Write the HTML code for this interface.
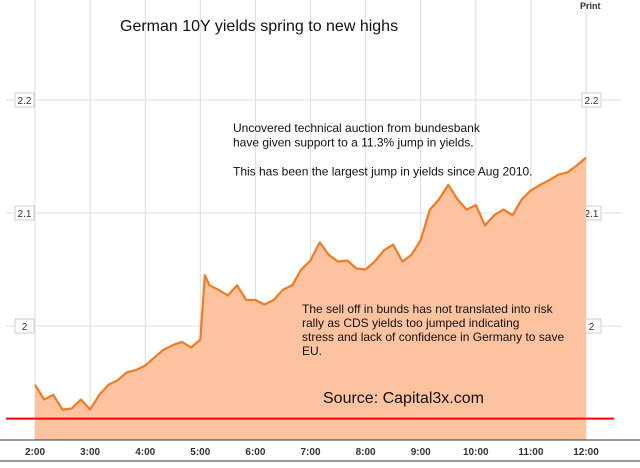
<!DOCTYPE html>
<html><head><meta charset="utf-8"><style>
body{margin:0;background:#fff;font-family:"Liberation Sans",sans-serif}
svg text{font-family:"Liberation Sans",sans-serif}
</style></head><body>
<svg id="c" width="640" height="463">
<g id="grid"></g><g id="area"></g><g id="anno"></g></svg>
<script>
const times=[2,2.167,2.333,2.5,2.667,2.833,3,3.167,3.333,3.5,3.667,3.833,4,4.167,4.333,4.5,4.667,4.833,5,5.083,5.167,5.333,5.5,5.667,5.833,6,6.167,6.333,6.5,6.667,6.833,7,7.167,7.333,7.5,7.667,7.833,8,8.167,8.333,8.5,8.667,8.833,9,9.167,9.333,9.5,9.667,9.833,10,10.167,10.333,10.5,10.667,10.833,11,11.167,11.333,11.5,11.667,11.833,12];
const yields=[1.948,1.935,1.939,1.926,1.927,1.935,1.926,1.939,1.948,1.952,1.959,1.961,1.965,1.972,1.979,1.983,1.986,1.981,1.988,2.045,2.036,2.032,2.027,2.036,2.023,2.023,2.019,2.023,2.032,2.036,2.050,2.058,2.074,2.063,2.057,2.058,2.051,2.050,2.057,2.067,2.072,2.057,2.063,2.076,2.103,2.112,2.125,2.112,2.103,2.107,2.089,2.098,2.103,2.098,2.112,2.120,2.125,2.129,2.134,2.136,2.142,2.149];
const xTicks=["2:00","3:00","4:00","5:00","6:00","7:00","8:00","9:00","10:00","11:00","12:00"];
const yTicks=[2.0,2.1,2.2];
const redLevel=1.918;
const NS="http://www.w3.org/2000/svg";
const X=t=>35+(t-2)*55.1;
const Y=v=>100+(2.2-v)*1130;
function mk(tag,attrs,parent){const e=document.createElementNS(NS,tag);for(const k in attrs)e.setAttribute(k,attrs[k]);parent.appendChild(e);return e;}
const grid=document.getElementById('grid'),area=document.getElementById('area'),anno=document.getElementById('anno');
xTicks.forEach((lab,i)=>{const x=X(2+i);
 const l=mk('line',{x1:x,x2:x,y1:0,y2:440,stroke:'#ddd','stroke-width':1},grid);
 
 
 const t=mk('text',{x:x,y:455,'text-anchor':'middle','font-size':10,'font-weight':'bold',fill:'#333'},grid);t.textContent=lab;
 
 
});
yTicks.forEach(v=>{const y=Y(v);
 const l=mk('line',{x1:6,x2:622,y1:y,y2:y,stroke:'#ddd','stroke-width':1},grid);
 
 
 [[15,25],[582,592]].forEach(([bx,tx])=>{
  mk('rect',{x:bx,y:y-7,width:19,height:14,fill:'#fff',stroke:'#ccc'},grid);
  const t=mk('text',{x:bx+9.5,y:y+4,'text-anchor':'middle','font-size':10,fill:'#333'},grid);t.textContent=String(v===2?'2':v);
  
  
 });
});
let pts=times.map((t,i)=>X(t).toFixed(1)+','+Y(yields[i]).toFixed(1));
const fill=mk('polygon',{points:X(times[0])+',440 '+pts.join(' ')+' '+X(times[times.length-1])+',440',fill:'#fdc29f'},area);


const line=mk('polyline',{points:pts.join(' '),fill:'none',stroke:'#f47a1f','stroke-width':2.2,'stroke-linejoin':'round'},area);


const red=mk('line',{x1:6,x2:614,y1:Y(redLevel),y2:Y(redLevel),stroke:'#f00','stroke-width':2},area);


mk('line',{x1:0,x2:640,y1:440,y2:440,stroke:'#333','stroke-width':1},area);
mk('line',{x1:0,x2:640,y1:461,y2:461,stroke:'#333','stroke-width':1},area);
function txt(s,x,y,size,name,extra){const t=mk('text',Object.assign({x:x,y:y,'font-size':size,fill:'#111'},extra||{}),anno);t.textContent=s;
 
 return t;}
txt('German 10Y yields spring to new highs',120,31,16,'chart-title');
txt('Print',580,9,9,'print-link',{'font-weight':'bold',fill:'#333'});
['Uncovered technical auction from bundesbank','have given support to a 11.3% jump in yields.','','This has been the largest jump in yields since Aug 2010.'].forEach((s,i)=>{if(s)txt(s,233,132+i*14.5,12,'annotation-auction');});
['The sell off in bunds has not translated into risk','rally as CDS yields too jumped indicating','stress and lack of confidence in Germany to save','EU.'].forEach((s,i)=>txt(s,302,313+i*14,12,'annotation-selloff'));
txt('Source: Capital3x.com',323,403,16,'source-note');
</script>
</body></html>
